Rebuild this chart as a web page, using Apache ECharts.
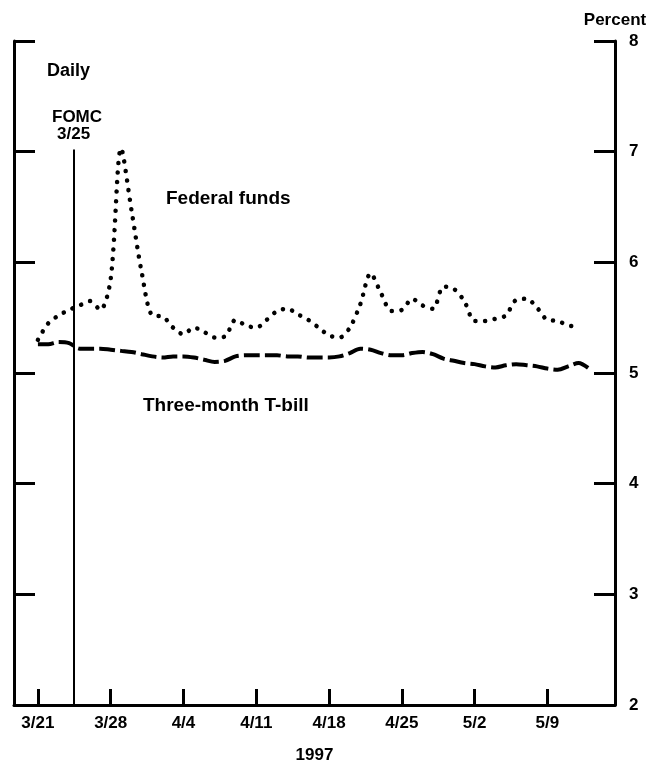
<!DOCTYPE html>
<html>
<head>
<meta charset="utf-8">
<script src="https://cdn.jsdelivr.net/npm/echarts@6/dist/echarts.min.js"></script>
<style>
    html, body { margin: 0; padding: 0; background: #fff; }
    #chart { width: 656px; height: 774px; }
</style>
</head>
<body>
<div id="chart"></div>
<script>
// x values are days counted from 3/21/1997
const tickDays = [0, 7, 14, 21, 28, 35, 42, 49];
const tickLabels = ['3/21', '3/28', '4/4', '4/11', '4/18', '4/25', '5/2', '5/9'];
const yTicks = [2, 3, 4, 5, 6, 7, 8];

// daily values, one per calendar day starting 3/21
const fedFunds = [5.30, 5.45, 5.52, 5.57, 5.61, 5.65, 5.57, 5.85, 7.03, 6.47,
    5.90, 5.52, 5.51, 5.41, 5.35, 5.41, 5.37, 5.32, 5.33, 5.48,
    5.43, 5.41, 5.48, 5.56, 5.58, 5.53, 5.48, 5.41, 5.34, 5.32,
    5.41, 5.62, 5.90, 5.72, 5.56, 5.57, 5.67, 5.61, 5.58, 5.78,
    5.76, 5.65, 5.47, 5.47, 5.49, 5.52, 5.66, 5.67, 5.59, 5.48,
    5.47, 5.43, 5.42];
const tBill = [5.26, 5.26, 5.28, 5.27, 5.22, 5.22, 5.22, 5.21, 5.20, 5.19,
    5.17, 5.15, 5.14, 5.15, 5.15, 5.14, 5.12, 5.10, 5.11, 5.15,
    5.16, 5.16, 5.16, 5.16, 5.15, 5.15, 5.14, 5.14, 5.14, 5.15,
    5.18, 5.22, 5.21, 5.18, 5.16, 5.16, 5.18, 5.19, 5.17, 5.13,
    5.11, 5.09, 5.08, 5.06, 5.05, 5.07, 5.08, 5.07, 5.06, 5.04,
    5.03, 5.06, 5.09, 5.04];

const fomcDay = 3.4;   // 3/25 meeting
const fomcTop = 7.02;

const font = '"Liberation Sans", Arial, Helvetica, sans-serif';

const chartDom = document.getElementById('chart');
const myChart = echarts.init(chartDom, null, { renderer: 'canvas' });

const axisY = (side, showLabel) => ({
    type: 'value',
    position: side,
    min: 2,
    max: 8,
    interval: 1,
    splitLine: { show: false },
    axisLine: { show: true, onZero: false, lineStyle: { color: '#000', width: 3 } },
    axisTick: { show: true, inside: true, length: 21, lineStyle: { color: '#000', width: 3 } },
    axisLabel: {
        show: showLabel,
        margin: 14,
        color: '#000',
        fontFamily: font,
        fontWeight: 'bold',
        fontSize: 17
    }
});

const option = {
    animation: false,
    backgroundColor: '#fff',
    grid: { left: 14, right: 41, top: 41, bottom: 69 },
    xAxis: {
        type: 'value',
        min: -2.3,
        max: 55.5,
        name: '1997',
        nameLocation: 'middle',
        nameGap: 42,
        nameTextStyle: { color: '#000', fontFamily: font, fontWeight: 'bold', fontSize: 17 },
        splitLine: { show: false },
        axisLine: { show: true, onZero: false, lineStyle: { color: '#000', width: 3 } },
        axisTick: {
            show: true,
            inside: true,
            length: 16,
            customValues: tickDays,
            lineStyle: { color: '#000', width: 3 }
        },
        axisLabel: {
            margin: 10,
            color: '#000',
            fontFamily: font,
            fontWeight: 'bold',
            fontSize: 17,
            customValues: tickDays,
            formatter: (v) => tickLabels[tickDays.indexOf(v)]
        }
    },
    yAxis: [
        axisY('left', false),
        Object.assign(axisY('right', true), {
            name: 'Percent',
            nameLocation: 'end',
            nameGap: 12,
            nameTextStyle: { color: '#000', fontFamily: font, fontWeight: 'bold', fontSize: 17, align: 'center' }
        })
    ],
    series: [
        {
            name: 'Federal funds',
            type: 'line',
            yAxisIndex: 1,
            data: fedFunds.map((v, i) => [i, v]),
            showSymbol: false,
            smooth: 0.3,
            lineStyle: { color: '#000', width: 4.5, type: [0.1, 9.5], cap: 'round' },
            markLine: {
                silent: true,
                symbol: 'none',
                label: { show: false },
                lineStyle: { color: '#000', width: 2, type: 'solid' },
                data: [[{ coord: [fomcDay, fomcTop] }, { coord: [fomcDay, 2] }]]
            }
        },
        {
            name: 'Three-month T-bill',
            type: 'line',
            yAxisIndex: 1,
            data: tBill.map((v, i) => [i, v]),
            showSymbol: false,
            smooth: 0.3,
            lineStyle: { color: '#000', width: 4, type: [16, 5], cap: 'butt' }
        }
    ],
    graphic: [
        { type: 'text', left: 47, top: 62, style: { text: 'Daily', fill: '#000', font: 'bold 18px ' + font } },
        { type: 'text', left: 52, top: 109, style: { text: 'FOMC', fill: '#000', font: 'bold 17px ' + font } },
        { type: 'text', left: 57, top: 126, style: { text: '3/25', fill: '#000', font: 'bold 17px ' + font } },
        { type: 'text', left: 166, top: 189, style: { text: 'Federal funds', fill: '#000', font: 'bold 19px ' + font } },
        { type: 'text', left: 143, top: 396, style: { text: 'Three-month T-bill', fill: '#000', font: 'bold 19px ' + font } }
    ]
};

myChart.setOption(option);
</script>
</body>
</html>
